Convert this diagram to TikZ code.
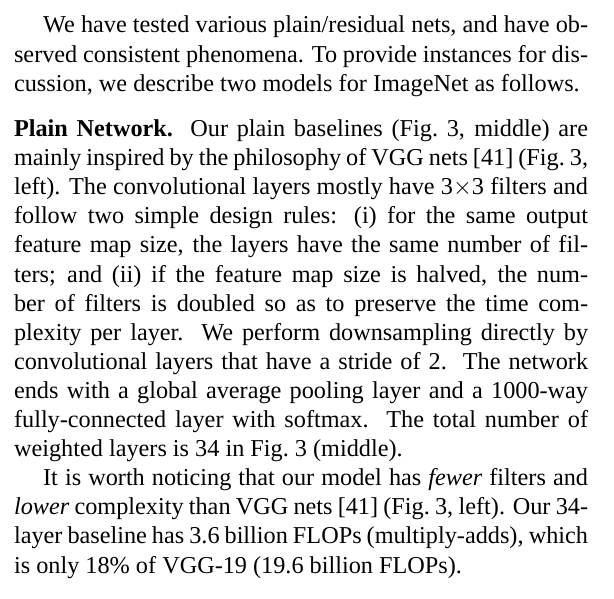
\documentclass[tikz,border=0pt]{standalone}
\usepackage{fontspec}
\setmainfont{Liberation Serif}
\newlength{\tw}\setlength{\tw}{236.7pt}
\newcommand{\jl}[1]{\hbox to \tw{#1}}
\newcommand{\nl}[1]{\hbox{#1}}
\newcommand{\ind}{\hspace*{12pt}}
\tikzset{para/.style={anchor=base west, inner sep=0pt, outer sep=0pt}}
\begin{document}
\begin{tikzpicture}[x=1pt,y=1pt]
\useasboundingbox[fill=white] (0,0) rectangle (253.2,-247);
\node[para] (txt) at (5.8,-13.6) {\parbox[t]{\tw}{\fontsize{10}{12}\selectfont
\jl{\ind We have tested various plain/residual nets, and have ob-}
\jl{served consistent phenomena. To provide instances for dis-}
\nl{cussion, we describe two models for ImageNet as follows.}
\vspace{6.7pt}
\jl{\textbf{Plain Network.}\ \ Our plain baselines (Fig.\ 3, middle) are}
\jl{mainly inspired by the philosophy of VGG nets [41] (Fig.\ 3,}
\jl{left). The convolutional layers mostly have 3$\times$3 filters and}
\jl{follow two simple design rules: (i) for the same output}
\jl{feature map size, the layers have the same number of fil-}
\jl{ters; and (ii) if the feature map size is halved, the num-}
\jl{ber of filters is doubled so as to preserve the time com-}
\jl{plexity per layer.\ \ We perform downsampling directly by}
\jl{convolutional layers that have a stride of 2.\ \ The network}
\jl{ends with a global average pooling layer and a 1000-way}
\jl{fully-connected layer with softmax.\ \ The total number of}
\nl{weighted layers is 34 in Fig.\ 3 (middle).}
\jl{\ind It is worth noticing that our model has \emph{fewer} filters and}
\jl{\emph{lower} complexity than VGG nets [41] (Fig.\ 3, left). Our 34-}
\jl{layer baseline has 3.6 billion FLOPs (multiply-adds), which}
\nl{is only 18\% of VGG-19 (19.6 billion FLOPs).}
}};
\end{tikzpicture}
\end{document}
